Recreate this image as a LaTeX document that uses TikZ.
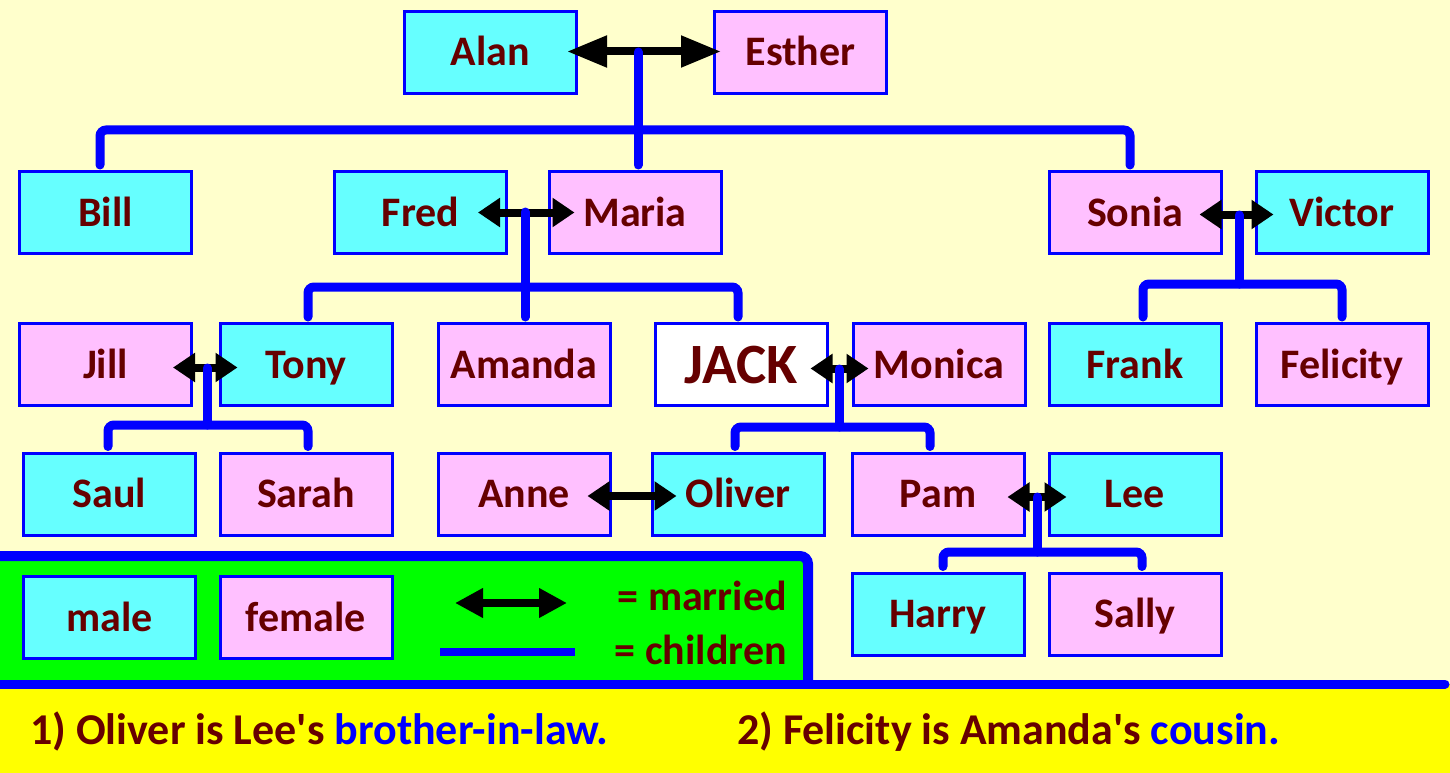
\documentclass[tikz,border=0pt]{standalone}
\usepackage{fontspec}
\setmainfont{Carlito}
\usetikzlibrary{arrows.meta}
\definecolor{bg}{HTML}{FFFFCC}
\definecolor{cy}{HTML}{66FFFF}
\definecolor{pk}{HTML}{FFC0FF}
\definecolor{bl}{HTML}{0000FF}
\definecolor{tx}{HTML}{660000}
\definecolor{gr}{HTML}{00FF00}
\definecolor{ye}{HTML}{FFFF00}
\begin{document}
\begin{tikzpicture}[x=1pt,y=-1pt,
  person/.style={draw=bl, line width=3pt, minimum width=172pt, minimum height=82pt,
    inner sep=0pt, font=\fontsize{42}{42}\selectfont\bfseries, text=tx,
    text height=27pt, text depth=0pt},
  manbox/.style={person, fill=cy},
  womanbox/.style={person, fill=pk},
  wed/.style={draw=black, line width=8pt,
    {Triangle[length=22pt,width=28pt]}-{Triangle[length=22pt,width=28pt]}},
  wedbig/.style={draw=black, line width=8pt,
    {Triangle[length=40pt,width=30pt]}-{Triangle[length=40pt,width=30pt]}},
  kid/.style={draw=bl, line width=9pt, line cap=round, rounded corners=6pt},
  legtext/.style={font=\fontsize{42}{42}\selectfont\bfseries, text=tx, inner sep=0pt},
  qtext/.style={font=\fontsize{44}{44}\selectfont\bfseries, text=tx, inner sep=0pt},
]
\useasboundingbox (0,0) rectangle (1450,773);
\fill[bg] (0,0) rectangle (1450,773);

% legend panel and bottom strip
\fill[gr] (0,556) rectangle (808,684);
\draw[bl, line width=10pt, rounded corners=8pt] (-6,556) -| (808,690);
\fill[ye] (0,684) rectangle (1450,773);
\draw[bl, line width=9pt, line cap=round] (-6,684) -- (1445,684);

% people
\node[manbox]   (Alan)     at (490.5,52.5) {Alan};
\node[womanbox] (Esther)   at (800.5,52.5) {Esther};
\node[manbox]   (Bill)     at (105.5,212.5) {Bill};
\node[manbox]   (Fred)     at (420.5,212.5) {Fred};
\node[womanbox] (Maria)    at (635,212.5) {Maria};
\node[womanbox] (Sonia)    at (1135,212.5) {Sonia};
\node[manbox]   (Victor)   at (1342,212.5) {Victor};
\node[womanbox] (Jill)     at (105.5,364.5) {Jill};
\node[manbox]   (Tony)     at (306,364.5) {Tony};
\node[womanbox] (Amanda)   at (524,364.5) {Amanda};
\node[person, fill=white, font=\fontsize{57}{57}\selectfont\bfseries, text height=37pt] (JACK) at (741,364.5) {JACK};
\node[womanbox] (Monica)   at (939,364.5) {Monica};
\node[manbox]   (Frank)    at (1135,364.5) {Frank};
\node[womanbox] (Felicity) at (1342,364.5) {Felicity};
\node[manbox]   (Saul)     at (109.5,494) {Saul};
\node[womanbox] (Sarah)    at (306,494) {Sarah};
\node[womanbox] (Anne)     at (524,494) {Anne};
\node[manbox]   (Oliver)   at (738,494) {Oliver};
\node[womanbox] (Pam)      at (938,494) {Pam};
\node[manbox]   (Lee)      at (1135,494) {Lee};
\node[manbox]   (Harry)    at (938,614) {Harry};
\node[womanbox] (Sally)    at (1135,614) {Sally};
\node[manbox]   (male)     at (109.5,617.5) {male};
\node[womanbox] (female)   at (306,617.5) {female};

% marriages
\draw[wedbig] ([xshift=-11pt,yshift=1pt]Alan.east) -- ([xshift=8pt,yshift=1pt]Esther.west);
\draw[wed] ([xshift=-30pt]Fred.east) -- ([xshift=27pt]Maria.west);
\draw[wed] ([xshift=-23pt,yshift=-2pt]Sonia.east) -- ([xshift=19pt,yshift=-2pt]Victor.west);
\draw[wed] ([xshift=-20pt,yshift=-3pt]Jill.east) -- ([xshift=19pt,yshift=-3pt]Tony.west);
\draw[wed] ([xshift=-18pt,yshift=-4pt]JACK.east) -- ([xshift=17pt,yshift=-4pt]Monica.west);
\draw[wed] ([xshift=-24pt,yshift=-2pt]Anne.east) -- ([xshift=26pt,yshift=-2pt]Oliver.west);
\draw[wed] ([xshift=-18pt,yshift=-3pt]Pam.east) -- ([xshift=19pt,yshift=-3pt]Lee.west);

% children lines
\coordinate (mAE) at (638,52);   \coordinate (barAE) at (638,130);
\coordinate (mFM) at (525,212);  \coordinate (barFM) at (525,287);
\coordinate (mSV) at (1239,215); \coordinate (barSV) at (1239,284);
\coordinate (mJT) at (207,368);  \coordinate (barJT) at (207,425);
\coordinate (mJM) at (839,369);  \coordinate (barJM) at (839,427);
\coordinate (mPL) at (1037,497); \coordinate (barPL) at (1037,552);

\draw[kid, shorten >=5pt] (mAE) -- (mAE |- Maria.north);
\draw[kid, shorten <=5pt, shorten >=5pt] ([xshift=-5.5pt]Bill.north) |- (barAE) -| ([xshift=-5pt]Sonia.north);

\draw[kid, shorten >=5pt] (mFM) -- (mFM |- Amanda.north);
\draw[kid, shorten <=5pt, shorten >=5pt] ([xshift=2pt]Tony.north) |- (barFM) -| ([xshift=-3pt]JACK.north);

\draw[kid] (mSV) -- (barSV);
\draw[kid, shorten <=5pt, shorten >=5pt] ([xshift=8pt]Frank.north) |- (barSV) -| (Felicity.north);

\draw[kid] (mJT) -- (barJT);
\draw[kid, shorten <=5pt, shorten >=5pt] ([xshift=-1.5pt]Saul.north) |- (barJT) -| ([xshift=2pt]Sarah.north);

\draw[kid] (mJM) -- (barJM);
\draw[kid, shorten <=5pt, shorten >=5pt] ([xshift=-3pt]Oliver.north) |- (barJM) -| ([xshift=-8pt]Pam.north);

\draw[kid] (mPL) -- (barPL);
\draw[kid, shorten <=5pt, shorten >=5pt] ([xshift=5pt]Harry.north) |- (barPL) -| ([xshift=7pt]Sally.north);

% legend symbols
\coordinate (la1) at (455,603); \coordinate (la2) at (567,603);
\draw[draw=black, line width=8pt,
  {Triangle[length=28pt,width=28pt]}-{Triangle[length=28pt,width=28pt]}] (la1) -- (la2);
\coordinate (lb1) at (440,652); \coordinate (lb2) at (575,652);
\draw[bl, line width=8pt] (lb1) -- (lb2);
\node[legtext, anchor=base east] (lmar) at (787,610) {= married};
\node[legtext, anchor=base east] (lchi) at (787,664) {= children};

% questions
\node[qtext, anchor=base west] (q1) at (30,744) {1) Oliver is Lee\textquotesingle s \textcolor{bl}{brother-in-law.}};
\node[qtext, anchor=base west] (q2) at (737,744) {2) Felicity is Amanda\textquotesingle s \textcolor{bl}{cousin.}};
\end{tikzpicture}
\end{document}
